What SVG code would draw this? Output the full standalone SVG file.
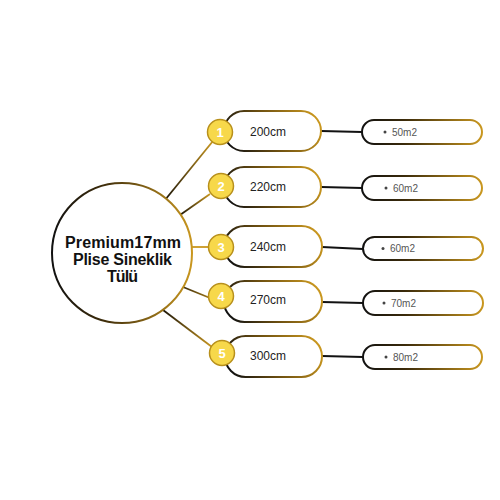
<svg xmlns="http://www.w3.org/2000/svg" width="500" height="500" viewBox="0 0 500 500">
<defs>
<linearGradient id="gH" x1="0" y1="0" x2="1" y2="0"><stop offset="0" stop-color="#111"/><stop offset="0.35" stop-color="#3a2a0a"/><stop offset="1" stop-color="#c9971f"/></linearGradient>
<linearGradient id="gPill" x1="0" y1="0.6" x2="1" y2="0.4"><stop offset="0" stop-color="#111"/><stop offset="0.45" stop-color="#6b4e10"/><stop offset="1" stop-color="#c9971f"/></linearGradient>
<linearGradient id="gUp" x1="0" y1="1" x2="1" y2="0"><stop offset="0" stop-color="#1a1408"/><stop offset="1" stop-color="#c9971f"/></linearGradient>
<linearGradient id="gDown" x1="0" y1="0" x2="1" y2="1"><stop offset="0" stop-color="#1a1408"/><stop offset="1" stop-color="#c9971f"/></linearGradient>
<linearGradient id="gDown2" x1="0" y1="0" x2="1" y2="1"><stop offset="0" stop-color="#3a2a0a"/><stop offset="1" stop-color="#a07818"/></linearGradient>
</defs>
<style>
.big{fill:#fff;stroke:url(#gH);stroke-width:2}
.pill{fill:#fff;stroke:url(#gPill);stroke-width:2}
.sp{fill:#fff;stroke:url(#gH);stroke-width:2}
.num{fill:#f7d84a;stroke:#b8901c;stroke-width:1.5}
.nt{font-family:"Liberation Sans",Arial,sans-serif;font-weight:bold;font-size:13px;fill:#fff;text-anchor:middle}
.lt{font-family:"Liberation Sans",Arial,sans-serif;font-size:12px;fill:#222;text-anchor:middle}
.st{font-family:"Liberation Sans",Arial,sans-serif;font-size:10px;fill:#555}
.tt{font-family:"Liberation Sans",Arial,sans-serif;font-weight:bold;font-size:16px;fill:#111;text-anchor:middle}
.conn{fill:none;stroke-width:1.8}
.cr{stroke:#111;stroke-width:1.8}
</style>
<g id="connectors">
<line class="conn" x1="165" y1="200" x2="213" y2="141" stroke="url(#gUp)"/>
<line class="conn" x1="180" y1="215" x2="210" y2="194" stroke="url(#gUp)"/>
<line class="conn" x1="192" y1="247" x2="209" y2="247" stroke="#c9971f"/>
<line class="conn" x1="183" y1="287" x2="210" y2="298" stroke="url(#gDown2)"/>
<line class="conn" x1="163" y1="310" x2="212" y2="347" stroke="url(#gDown)"/>
<line class="cr" x1="321" y1="131" x2="362" y2="132"/>
<line class="cr" x1="321" y1="187" x2="362" y2="188"/>
<line class="cr" x1="322" y1="247" x2="363" y2="249"/>
<line class="cr" x1="322" y1="302" x2="363" y2="303"/>
<line class="cr" x1="322" y1="356" x2="363" y2="357"/>
</g>
<g id="center">
<circle class="big" cx="122" cy="253" r="70"/>
<text class="tt" x="123" y="248" textLength="116">Premium17mm</text>
<text class="tt" x="122.5" y="264.5" textLength="99">Plise Sineklik</text>
<text class="tt" x="122.5" y="281.5" textLength="31">Tülü</text>
</g>
<g id="n1">
<rect class="pill" x="224" y="111" width="97" height="40" rx="20"/>
<text class="lt" x="268" y="136">200cm</text>
<circle class="num" cx="220" cy="132" r="12.5"/>
<text class="nt" x="220" y="137">1</text>
</g>
<g id="n2">
<rect class="pill" x="224" y="167" width="97" height="40" rx="20"/>
<text class="lt" x="268" y="191">220cm</text>
<circle class="num" cx="221" cy="186" r="12.5"/>
<text class="nt" x="221" y="191">2</text>
</g>
<g id="n3">
<rect class="pill" x="224" y="226" width="98" height="41" rx="20.5"/>
<text class="lt" x="268" y="251">240cm</text>
<circle class="num" cx="221" cy="247" r="12.5"/>
<text class="nt" x="221" y="252">3</text>
</g>
<g id="n4">
<rect class="pill" x="224" y="281" width="98" height="41" rx="20.5"/>
<text class="lt" x="268" y="304">270cm</text>
<circle class="num" cx="221" cy="296" r="12.5"/>
<text class="nt" x="221" y="301">4</text>
</g>
<g id="n5">
<rect class="pill" x="225" y="336" width="97" height="41" rx="20.5"/>
<text class="lt" x="268" y="360">300cm</text>
<circle class="num" cx="222" cy="353" r="12.5"/>
<text class="nt" x="222" y="358">5</text>
</g>
<g id="s1">
<rect class="sp" x="362" y="120" width="120" height="24" rx="12"/>
<circle cx="385" cy="132" r="1.5" fill="#444"/>
<text class="st" x="392" y="135.5">50m2</text>
</g>
<g id="s2">
<rect class="sp" x="362" y="176" width="120" height="24" rx="12"/>
<circle cx="386" cy="188" r="1.5" fill="#444"/>
<text class="st" x="393" y="191.5">60m2</text>
</g>
<g id="s3">
<rect class="sp" x="363" y="237" width="120" height="23" rx="11.5"/>
<circle cx="383" cy="248.5" r="1.5" fill="#444"/>
<text class="st" x="390" y="252">60m2</text>
</g>
<g id="s4">
<rect class="sp" x="363" y="291" width="120" height="24" rx="12"/>
<circle cx="384" cy="303" r="1.5" fill="#444"/>
<text class="st" x="391" y="306.5">70m2</text>
</g>
<g id="s5">
<rect class="sp" x="363" y="345" width="119" height="24" rx="12"/>
<circle cx="386" cy="357" r="1.5" fill="#444"/>
<text class="st" x="393" y="360.5">80m2</text>
</g>
</svg>
